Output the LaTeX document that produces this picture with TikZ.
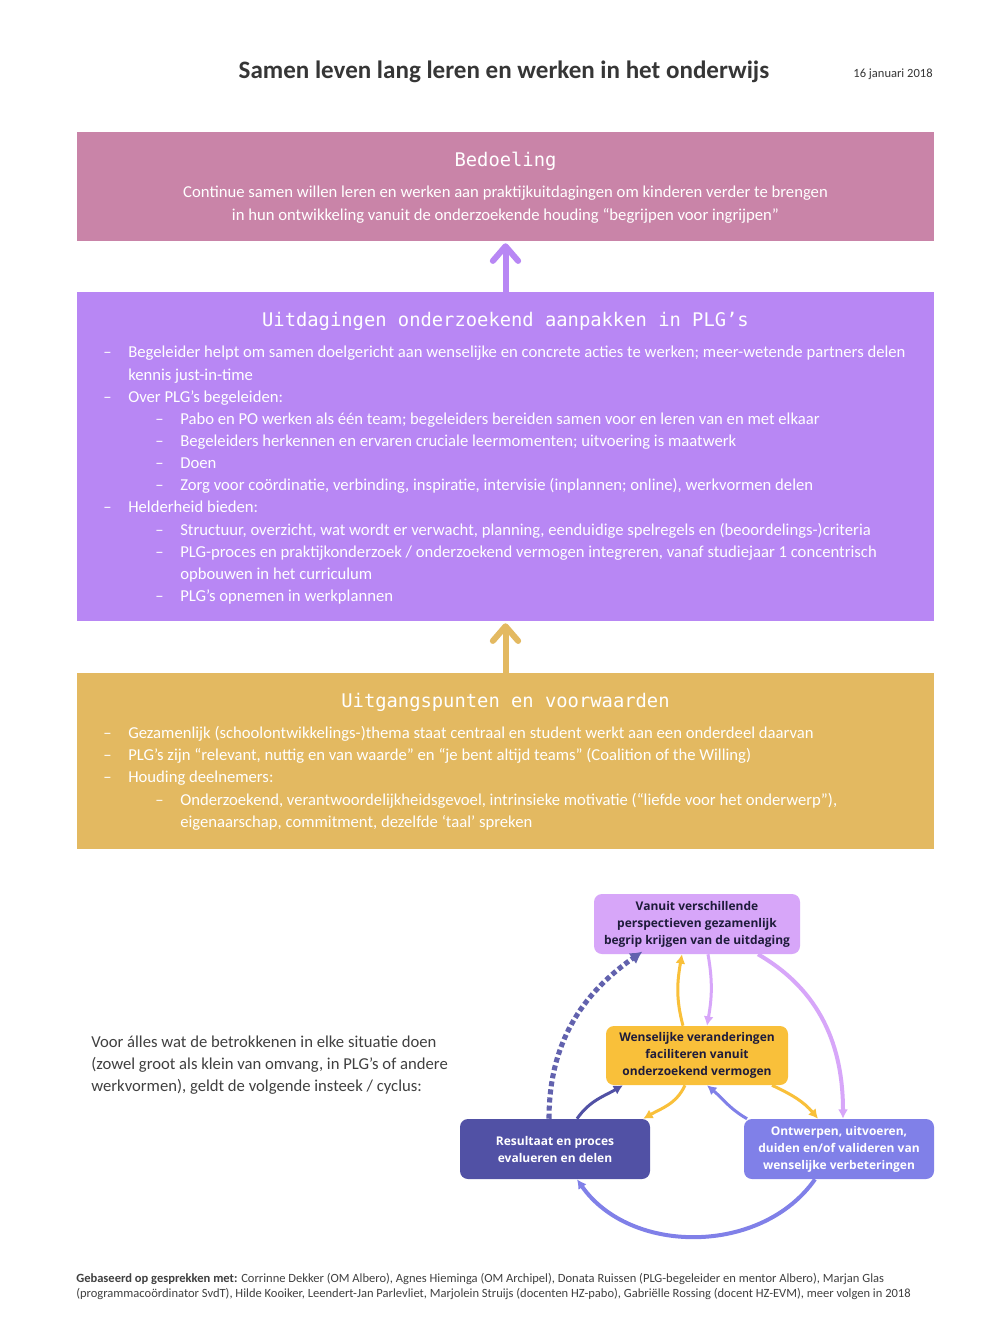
\documentclass[tikz,border=0pt]{standalone}
\usepackage{fontspec}
\setmainfont{Carlito}
\newfontfamily\kopfont{DejaVu Sans Mono}
\newfontfamily\cyclusfont{Open Sans}
\usetikzlibrary{arrows.meta}

\definecolor{roze}{HTML}{C984A8}
\definecolor{paars}{HTML}{B887F4}
\definecolor{goud}{HTML}{E3B961}
\definecolor{lila}{HTML}{D7A6F9}
\definecolor{geel}{HTML}{F9C03A}
\definecolor{indigo}{HTML}{5151A5}
\definecolor{pervinca}{HTML}{8080E8}
\definecolor{donker}{HTML}{1E1B3A}
\definecolor{grijs}{HTML}{404040}

\begin{document}
\begin{tikzpicture}[x=0.75pt,y=0.75pt,
   blok/.style={inner sep=0,minimum width=642.75pt},
   kop/.style={font=\kopfont\fontsize{14.1}{16}\selectfont,text=white},
   lijn/.style={font=\fontsize{12.5}{15}\selectfont,text=white,inner sep=0,anchor=base west},
   stap/.style={rounded corners=6pt,align=center,inner sep=0,minimum height=45pt,
     font=\cyclusfont\bfseries\fontsize{9}{12.75}\selectfont},
   blokpijl/.style={line width=4.5pt,-{Straight Barb[length=11pt,width=19pt,round]}},
   pijl/.style={line width=2.25pt,-{Latex[length=7pt,width=7.5pt]}}]

  \useasboundingbox[fill=white] (0,0) rectangle (1006,-1342);

  % titel
  \node[font=\bfseries\fontsize{18.8}{22}\selectfont,text=grijs!85!black] (titel) at (504,-72)
    {Samen leven lang leren en werken in het onderwijs};
  \node[font=\fontsize{9.4}{11}\selectfont,text=grijs!85!black] (datum) at (893,-74) {16 januari 2018};

  % drie blokken
  \node[blok,fill=roze,minimum height=81.75pt] (bedoeling) at (505.5,-186.5) {};
  \node[blok,fill=paars,minimum height=246.75pt] (uitdaging) at (505.5,-456.5) {};
  \node[blok,fill=goud,minimum height=132pt] (uitgang) at (505.5,-761) {};

  \draw[blokpijl,paars] (uitdaging.north) -- ([yshift=-1.5pt]bedoeling.south);
  \draw[blokpijl,goud] (uitgang.north) -- ([yshift=-1.5pt]uitdaging.south);

  \node[kop] (kopA) at (505.5,-161) {Bedoeling};
  \node[lijn,anchor=center,align=center,font=\fontsize{12.5}{17.25}\selectfont] (doel) at (505.5,-204.5)
    {Continue samen willen leren en werken aan praktijkuitdagingen om kinderen verder te brengen\\
     in hun ontwikkeling vanuit de onderzoekende houding “begrijpen voor ingrijpen”};

  \node[kop] (kopB) at (505.5,-321) {Uitdagingen onderzoekend aanpakken in PLG’s};
  \foreach \xx/\yy [count=\i] in {103/352,103/397,155/419,155/441,155/463,155/485,103/507,155/530,155/552,155/596}
    \node[lijn] (ps\i) at (\xx,-\yy-5) {--};
  \foreach \xx/\yy/\txt [count=\i] in {
      128/352/{Begeleider helpt om samen doelgericht aan wenselijke en concrete acties te werken; meer-wetende partners delen},
      128/375/{kennis just-in-time},
      128/397/{Over PLG’s begeleiden:},
      180/419/{Pabo en PO werken als één team; begeleiders bereiden samen voor en leren van en met elkaar},
      180/441/{Begeleiders herkennen en ervaren cruciale leermomenten; uitvoering is maatwerk},
      180/463/{Doen},
      180/485/{Zorg voor coördinatie, verbinding, inspiratie, intervisie (inplannen; online), werkvormen delen},
      128/507/{Helderheid bieden:},
      180/530/{Structuur, overzicht, wat wordt er verwacht, planning, eenduidige spelregels en (beoordelings-)criteria},
      180/552/{PLG-proces en praktijkonderzoek / onderzoekend vermogen integreren, vanaf studiejaar 1 concentrisch},
      180/574/{opbouwen in het curriculum},
      180/596/{PLG’s opnemen in werkplannen}}
    \node[lijn] (p\i) at (\xx,-\yy-5) {\txt};

  \node[kop] (kopC) at (505.5,-702) {Uitgangspunten en voorwaarden};
  \foreach \xx/\yy [count=\i] in {103/733,103/755,103/777,155/800}
    \node[lijn] (gs\i) at (\xx,-\yy-5) {--};
  \foreach \xx/\yy/\txt [count=\i] in {
      128/733/{Gezamenlijk (schoolontwikkelings-)thema staat centraal en student werkt aan een onderdeel daarvan},
      128/755/{PLG’s zijn “relevant, nuttig en van waarde” en “je bent altijd teams” (Coalition of the Willing)},
      128/777/{Houding deelnemers:},
      180/800/{Onderzoekend, verantwoordelijkheidsgevoel, intrinsieke motivatie (“liefde voor het onderwerp”),},
      180/822/{eigenaarschap, commitment, dezelfde ‘taal’ spreken}}
    \node[lijn] (g\i) at (\xx,-\yy-5) {\txt};

  % cyclus
  \node[align=left,anchor=west,inner sep=0,text=grijs,font=\fontsize{12.5}{16.5}\selectfont] (insteek) at (91,-1065)
    {Voor álles wat de betrokkenen in elke situatie doen\\
     (zowel groot als klein van omvang, in PLG’s of andere\\
     werkvormen), geldt de volgende insteek / cyclus:};

  \node[stap,fill=lila,text=donker,minimum width=154.5pt] (begrip) at (697,-924)
    {Vanuit verschillende\\perspectieven gezamenlijk\\begrip krijgen van de uitdaging};
  \node[stap,fill=geel,text=donker,minimum width=136.5pt,minimum height=44.25pt] (faciliteren) at (697,-1055.5)
    {Wenselijke veranderingen\\faciliteren vanuit\\onderzoekend vermogen};
  \node[stap,fill=indigo,text=white,minimum width=142.5pt] (evalueren) at (555,-1149)
    {Resultaat en proces\\evalueren en delen};
  \node[stap,fill=pervinca,text=white,minimum width=142.5pt] (ontwerpen) at (839,-1149)
    {Ontwerpen, uitvoeren,\\duiden en/of valideren van\\wenselijke verbeteringen};

  \draw[pijl,indigo!90,line width=3.8pt,dash pattern=on 3.8pt off 2.3pt,
        -{Latex[length=9pt,width=10pt]}]
    ([xshift=-4.5pt]evalueren.north) to[out=90,in=-145] ([xshift=-41pt,yshift=2pt]begrip.south);
  \draw[pijl,geel] ([xshift=-10.5pt]faciliteren.north) to[out=105,in=-100] ([xshift=-11.25pt]begrip.south);
  \draw[pijl,lila] ([xshift=8.25pt]begrip.south) to[out=-80,in=80] ([xshift=7.5pt]faciliteren.north);
  \draw[pijl,lila,line width=3pt] ([xshift=45.75pt]begrip.south) to[out=-30,in=90] ([xshift=3pt]ontwerpen.north);
  \draw[pijl,geel] ([xshift=-9pt]faciliteren.south) to[out=-115,in=30] ([xshift=-5.25pt]evalueren.north east);
  \draw[pijl,geel] ([xshift=56.25pt]faciliteren.south) to[out=-25,in=130] ([xshift=-15.75pt]ontwerpen.north);
  \draw[pijl,pervinca] ([xshift=-69pt]ontwerpen.north) to[out=150,in=-40] ([xshift=7.5pt]faciliteren.south);
  \draw[pijl,indigo] ([xshift=16.5pt]evalueren.north) to[out=55,in=-150] ([xshift=-55.5pt]faciliteren.south);
  \draw[pijl,pervinca,line width=3pt] ([xshift=-18pt]ontwerpen.south) to[out=-125,in=-55] ([xshift=16.5pt]evalueren.south);

  % bronnen
  \node[align=left,anchor=west,inner sep=0,text=grijs,font=\fontsize{9.4}{11.25}\selectfont] (bronnen) at (76,-1286.5)
    {\textbf{Gebaseerd op gesprekken met:} Corrinne Dekker (OM Albero), Agnes Hieminga (OM Archipel), Donata Ruissen (PLG-begeleider en mentor Albero), Marjan Glas\\
     (programmacoördinator SvdT), Hilde Kooiker, Leendert-Jan Parlevliet, Marjolein Struijs (docenten HZ-pabo), Gabriëlle Rossing (docent HZ-EVM), meer volgen in 2018};
\end{tikzpicture}
\end{document}
